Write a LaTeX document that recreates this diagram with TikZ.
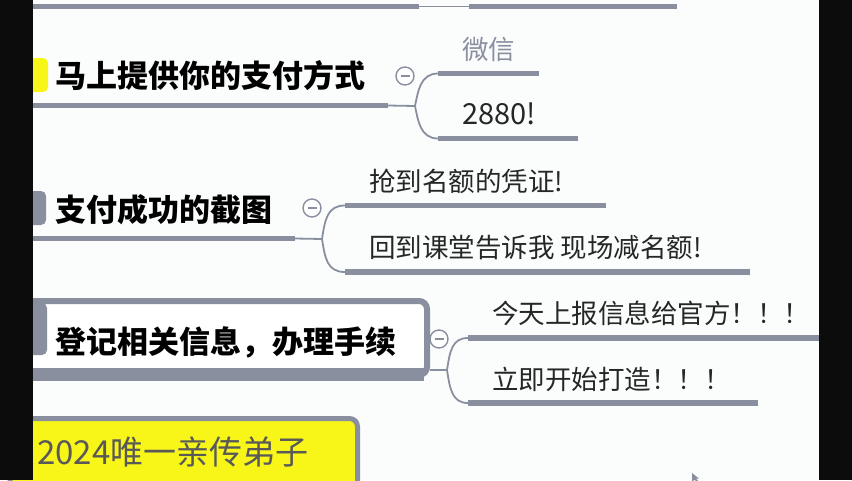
\documentclass[tikz,border=0pt]{standalone}
\usepackage{fontspec}
\newfontfamily\cjk{Noto Sans CJK SC}
\usetikzlibrary{calc}
\definecolor{lg}{HTML}{8A8FA0}
\definecolor{yel}{HTML}{F8F519}
\definecolor{bk}{HTML}{0C0C0C}
\definecolor{bg}{HTML}{FBFDFD}
\tikzset{
  thickln/.style={draw=lg,line width=5.5pt},
  thinln/.style={draw=lg,line width=1.8pt},
  maintext/.style={font=\cjk\bfseries\fontsize{31}{31}\selectfont,inner sep=0pt,anchor=west,text=black},
  subtext/.style={font=\cjk\fontsize{26.5}{27}\selectfont,inner sep=0pt,anchor=west,text=black!85},
  collapse/.style={circle,draw=lg,line width=1.4pt,fill=white,minimum size=18pt,inner sep=0pt,
    path picture={\draw[lg,line width=1.2pt] ($(path picture bounding box.center)+(-4.5,0)$) -- ($(path picture bounding box.center)+(4.5,0)$);}},
}
\begin{document}
\begin{tikzpicture}[x=1pt,y=-1pt]
\useasboundingbox (0,0) rectangle (852,480);
\fill[bg] (0,0) rectangle (852,480);

% top remnants
\coordinate (ta) at (15,6.5);
\coordinate (tb) at (419,6.5);
\coordinate (tc) at (469,6.5);
\coordinate (td) at (677,6.5);
\draw[thickln] (ta) -- (tb);
\draw[thinln] (tb) -- (tc);
\draw[thickln] (tc) -- (td);

% ---------- node 1 ----------
\fill[yel,rounded corners=5pt] (15,58) rectangle (48,92);
\node[maintext] (t1) at (55,76) {马上提供你的支付方式};
\coordinate (u1a) at (15,105.5);
\coordinate (u1b) at (388,105.5);
\coordinate (j1) at (415,106);
\draw[thickln] (u1a) -- (u1b);
\draw[thinln] (u1b) -- (j1);
\node[collapse] (c1) at (405,76) {};
\coordinate (b1a) at (438,73.5);
\coordinate (b1ae) at (539,73.5);
\coordinate (b1b) at (438,138.5);
\coordinate (b1be) at (578,138.5);
\draw[thinln] (j1) .. controls (418,92) and (420,73.5) .. (b1a);
\draw[thinln] (j1) .. controls (418,120) and (420,138.5) .. (b1b);
\draw[thickln] (b1a) -- (b1ae);
\draw[thickln] (b1b) -- (b1be);
\node[subtext,text=lg] (s11) at (462,49) {微信};
\node[subtext,font=\cjk\fontsize{29}{29}\selectfont] (s12) at (462,113.5) {2880!};

% ---------- node 2 ----------
\fill[lg,rounded corners=5pt] (15,191) rectangle (46,225);
\node[maintext] (t2) at (55,210) {支付成功的截图};
\coordinate (u2a) at (15,238.5);
\coordinate (u2b) at (295,238.5);
\coordinate (j2) at (322,239);
\draw[thickln] (u2a) -- (u2b);
\draw[thinln] (u2b) -- (j2);
\node[collapse] (c2) at (312,208) {};
\coordinate (b2a) at (345,205.5);
\coordinate (b2ae) at (606,205.5);
\coordinate (b2b) at (345,272);
\coordinate (b2be) at (750,272);
\draw[thinln] (j2) .. controls (325,220) and (327,205.5) .. (b2a);
\draw[thinln] (j2) .. controls (325,258) and (327,272) .. (b2b);
\draw[thickln] (b2a) -- (b2ae);
\draw[thickln] (b2b) -- (b2be);
\node[subtext] (s21) at (369,181) {抢到名额的凭证!};
\node[subtext] (s22) at (369,247.5) {回到课堂告诉我 现场减名额!};

% ---------- node 3 ----------
\draw[lg,line width=6pt,rounded corners=8pt,fill=white] (10,301) rectangle (427,375);
\fill[lg] (10,368) rectangle (424,381);
\fill[lg,rounded corners=5pt] (15,303) rectangle (47,355);
\node[maintext] (t3) at (55,342) {登记相关信息，办理手续};
\coordinate (u3b) at (430,370);
\coordinate (j3) at (447,370);
\draw[thinln] (u3b) -- (j3);
\node[collapse] (c3) at (439,339) {};
\coordinate (b3a) at (468,338);
\coordinate (b3ae) at (830,338);
\coordinate (b3b) at (468,403);
\coordinate (b3be) at (758,403);
\draw[thinln] (j3) .. controls (450,351) and (452,338) .. (b3a);
\draw[thinln] (j3) .. controls (450,389) and (452,403) .. (b3b);
\draw[thickln] (b3a) -- (b3ae);
\draw[thickln] (b3b) -- (b3be);
\node[subtext] (s31) at (492,313) {今天上报信息给官方！！！};
\node[subtext] (s32) at (492,379) {立即开始打造！！！};

% ---------- node 4 ----------
\draw[lg,line width=5pt,rounded corners=8pt,fill=yel] (10,418.5) rectangle (357.5,500);
\node[subtext,font=\cjk\fontsize{33}{33}\selectfont,text=black!65] (t4) at (37,452) {2024唯一亲传弟子};

% cursor
\fill[lg] (692,473) -- (692,482) -- (694.5,479.5) -- (697,482) -- (698,481) -- (696,478.5) -- (699,478.5) -- cycle;

% black side bars
\fill[bk] (0,0) rectangle (33,480);
\fill[bk] (819,0) rectangle (852,480);
\end{tikzpicture}
\end{document}
